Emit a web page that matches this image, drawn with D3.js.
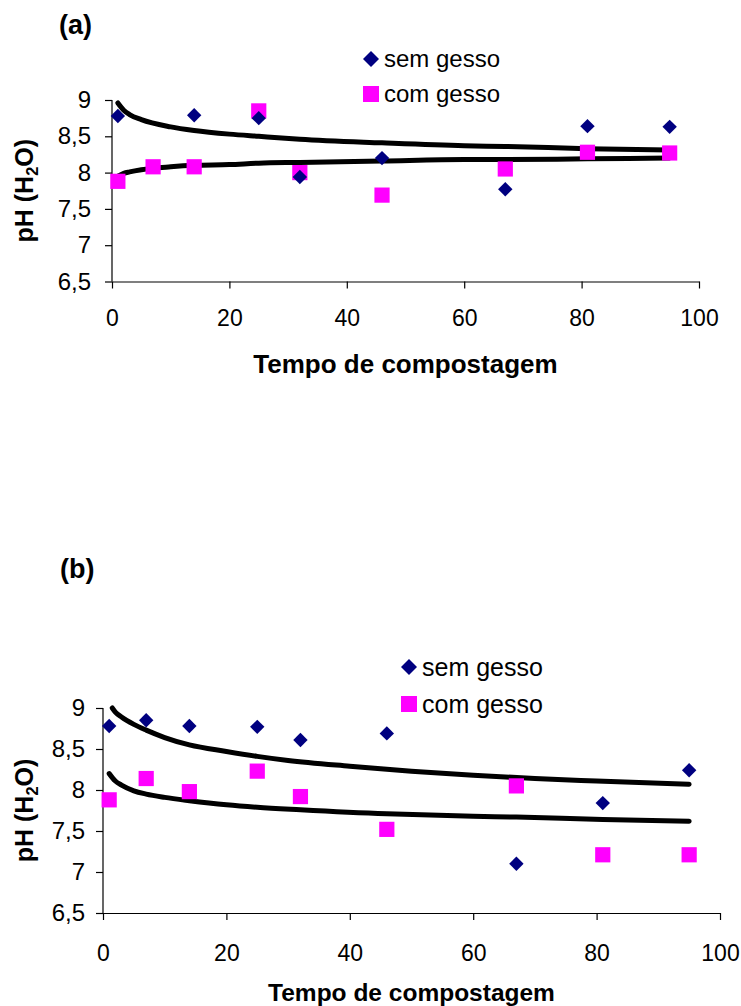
<!DOCTYPE html>
<html>
<head>
<meta charset="utf-8">
<script src="https://cdn.jsdelivr.net/npm/d3@7"></script>
<style>
  html, body { margin: 0; padding: 0; background: #fff; }
  svg { display: block; font-family: "Liberation Sans", Arial, sans-serif; }
</style>
</head>
<body>
<script>
// ---------- DATA ----------
const xTicks = [0, 20, 40, 60, 80, 100];
const yTicks = [6.5, 7, 7.5, 8, 8.5, 9];
const yTickLabels = ["6,5", "7", "7,5", "8", "8,5", "9"];
const seriesNames = ["sem gesso", "com gesso"];

// Panel (a)
const aSemX = [1, 14, 25, 32, 46, 67, 81, 95];
const aSemY = [8.78, 8.79, 8.75, 7.94, 8.2, 7.77, 8.64, 8.63];
const aComX = [1, 7, 14, 25, 32, 46, 67, 81, 95];
const aComY = [7.88, 8.08, 8.08, 8.85, 8.0, 7.69, 8.05, 8.28, 8.27];
// trend curves
const aTrendSemX = [1, 2, 3, 5, 10, 14, 20, 25, 32, 46, 60, 67, 81, 95];
const aTrendSemY = [8.96, 8.86, 8.80, 8.73, 8.63, 8.58, 8.53, 8.50, 8.46, 8.41, 8.37, 8.36, 8.33, 8.31];
const aTrendComX = [1, 2, 3, 5, 10, 14, 20, 25, 32, 46, 60, 67, 81, 95];
const aTrendComY = [7.95, 7.99, 8.01, 8.04, 8.08, 8.10, 8.11, 8.13, 8.14, 8.16, 8.18, 8.18, 8.19, 8.20];

// Panel (b)
const bSemX = [1, 7, 14, 25, 32, 46, 67, 81, 95];
const bSemY = [8.78, 8.85, 8.78, 8.77, 8.61, 8.69, 7.10, 7.84, 8.24];
const bComX = [1, 7, 14, 25, 32, 46, 67, 81, 95];
const bComY = [7.88, 8.14, 7.98, 8.23, 7.92, 7.52, 8.05, 7.21, 7.21];
const bTrendSemX = [1.5, 2, 3, 5, 7, 10, 14, 20, 25, 30, 40, 50, 60, 70, 80, 95];
const bTrendSemY = [9.0, 8.95, 8.89, 8.80, 8.73, 8.64, 8.55, 8.47, 8.41, 8.36, 8.29, 8.23, 8.18, 8.14, 8.11, 8.07];
const bTrendComX = [1, 2, 3, 5, 7, 10, 14, 20, 25, 32, 46, 60, 67, 81, 95];
const bTrendComY = [8.20, 8.11, 8.06, 7.99, 7.95, 7.91, 7.87, 7.82, 7.79, 7.76, 7.71, 7.68, 7.67, 7.64, 7.62];

// ---------- DRAW ----------
const W = 741, H = 1006;
const svg = d3.select("body").append("svg").attr("width", W).attr("height", H);

const zip = (xs, ys) => xs.map((x, i) => ({ x, y: ys[i] }));

function panel(cfg) {
  const x = d3.scaleLinear().domain([0, 100]).range([cfg.x0, cfg.x1]);
  const y = d3.scaleLinear().domain([6.5, 9]).range([cfg.y0, cfg.y1]);
  const g = svg.append("g");

  // axes
  const xa = g.append("g").attr("transform", `translate(0,${cfg.y0})`)
    .call(d3.axisBottom(x).tickValues(xTicks).tickSize(7).tickSizeOuter(0).tickPadding(cfg.xPad));
  const ya = g.append("g").attr("transform", `translate(${cfg.x0},0)`)
    .call(d3.axisLeft(y).tickValues(yTicks).tickSize(7).tickSizeOuter(0).tickPadding(cfg.yPad)
      .tickFormat((d, i) => yTickLabels[i]));
  [xa, ya].forEach(a => {
    a.select(".domain").attr("stroke", "#000").attr("stroke-width", 1.2);
    a.selectAll(".tick line").attr("stroke", "#000").attr("stroke-width", 1.2);
    a.selectAll("text").attr("fill", "#000")
      .attr("font-family", "'Liberation Sans', Arial, sans-serif");
  });
  xa.selectAll("text").attr("font-size", cfg.xTickFont);
  ya.selectAll("text").attr("font-size", cfg.yTickFont);
  ya.select(".domain").attr("d", `M0,${cfg.y0}V${cfg.y1}`);

  // trend curves
  const line = d3.line().x(d => x(d.x)).y(d => y(d.y)).curve(d3.curveMonotoneX);
  [cfg.tSem, cfg.tCom].forEach(t => {
    g.append("path").attr("d", line(t)).attr("fill", "none")
      .attr("stroke", "#000").attr("stroke-width", 5).attr("stroke-linecap", "round");
  });

  // markers
  const dHalf = 7.2, sHalf = 7.6;
  g.selectAll(".sq").data(cfg.com).enter().append("rect")
    .attr("x", d => x(d.x) - sHalf).attr("y", d => y(d.y) - sHalf)
    .attr("width", sHalf * 2).attr("height", sHalf * 2).attr("fill", "#FF00FF");
  g.selectAll(".dm").data(cfg.sem).enter().append("path")
    .attr("d", d => `M${x(d.x)},${y(d.y) - dHalf}L${x(d.x) + dHalf},${y(d.y)}L${x(d.x)},${y(d.y) + dHalf}L${x(d.x) - dHalf},${y(d.y)}Z`)
    .attr("fill", "#000080");

  // legend
  const lg = g.append("g").attr("transform", `translate(${cfg.legX},${cfg.legY})`);
  lg.append("path").attr("d", "M0,-8L8,0L0,8L-8,0Z").attr("fill", "#000080");
  lg.append("rect").attr("x", -8).attr("y", cfg.legGap - 8).attr("width", 16).attr("height", 16).attr("fill", "#FF00FF");
  seriesNames.forEach((n, i) => {
    lg.append("text").attr("x", 13).attr("y", i * cfg.legGap).attr("dy", "0.35em")
      .attr("font-size", cfg.legFont).attr("fill", "#000").text(n);
  });

  // panel label
  g.append("text").attr("x", cfg.labX).attr("y", cfg.labY).attr("font-size", 27)
    .attr("font-weight", "bold").attr("fill", "#000").text(cfg.label);

  // x title
  g.append("text").attr("x", (cfg.x0 + cfg.x1) / 2).attr("y", cfg.xTitleY)
    .attr("text-anchor", "middle").attr("font-size", cfg.titleFont).attr("font-weight", "bold")
    .attr("fill", "#000").text("Tempo de compostagem");

  // y title
  const yt = g.append("text").attr("transform", `translate(${cfg.yTitleX},${(cfg.y0 + cfg.y1) / 2}) rotate(-90)`)
    .attr("text-anchor", "middle").attr("font-size", cfg.yTitleFont).attr("font-weight", "bold").attr("fill", "#000");
  yt.append("tspan").text("pH (H");
  yt.append("tspan").attr("font-size", cfg.yTitleFont * 0.65).attr("dy", 5).text("2");
  yt.append("tspan").attr("dy", -5).text("O)");
}

panel({
  x0: 112, x1: 699, y0: 281.5, y1: 100,
  xPad: 21, yPad: 14, xTickFont: 23, yTickFont: 24,
  sem: zip(aSemX, aSemY), com: zip(aComX, aComY),
  tSem: zip(aTrendSemX, aTrendSemY), tCom: zip(aTrendComX, aTrendComY),
  legX: 371, legY: 59, legGap: 35, legFont: 24,
  label: "(a)", labX: 59, labY: 34,
  xTitleY: 373, titleFont: 26, yTitleX: 33, yTitleFont: 25
});

panel({
  x0: 103, x1: 720, y0: 913, y1: 708,
  xPad: 25, yPad: 11, xTickFont: 23, yTickFont: 24,
  sem: zip(bSemX, bSemY), com: zip(bComX, bComY),
  tSem: zip(bTrendSemX, bTrendSemY), tCom: zip(bTrendComX, bTrendComY),
  legX: 409, legY: 667, legGap: 37, legFont: 25,
  label: "(b)", labX: 60, labY: 578,
  xTitleY: 1001, titleFont: 24.5, yTitleX: 33, yTitleFont: 25
});
</script>
</body>
</html>
